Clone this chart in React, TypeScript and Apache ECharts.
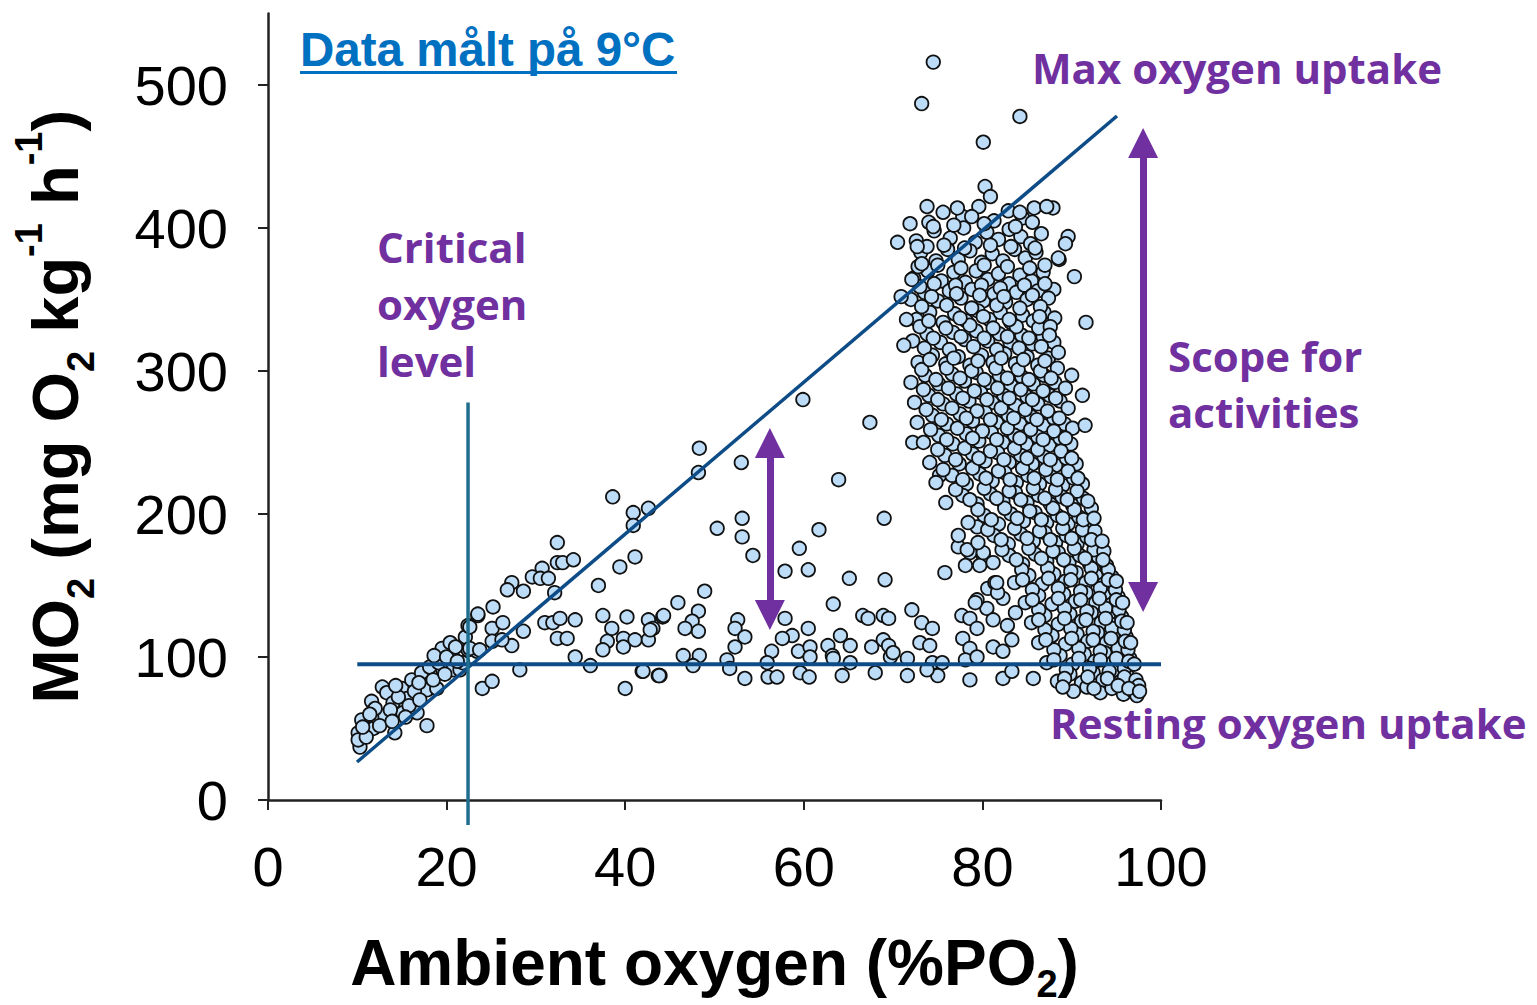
import React, { useEffect, useRef } from "react";
import * as echarts from "echarts";

type P = [number, number];

const xTicks = [0, 20, 40, 60, 80, 100];
const yTicks = [0, 100, 200, 300, 400, 500];

const lowCluster: P[] = [
  [10.3, 37], [10.1, 47], [10.5, 56], [10.1, 42], [11.8, 50], [12.2, 58], [11.6, 69], [12.8, 79], [13.3, 75],
  [13.1, 59], [14.0, 68], [14.2, 47], [15.0, 78], [15.1, 61], [15.6, 71], [16.1, 84], [16.7, 61], [17.2, 89],
  [17.8, 77], [17.8, 52], [18.1, 93], [18.9, 78], [19.5, 106], [20.4, 110], [20.6, 101], [19.6, 91], [20.7, 91],
  [22.1, 114], [22.4, 122], [23.5, 129], [22.4, 105], [23.4, 104], [24.0, 78], [25.1, 83], [25.1, 120], [25.2, 135],
  [21.5, 91], [21.8, 96], [11.0, 44], [12.5, 52], [13.7, 63], [14.6, 72], [15.8, 66], [16.4, 76], [17.0, 70],
  [18.5, 84], [19.1, 96], [12.0, 64], [13.9, 55], [10.6, 51], [11.4, 60], [16.9, 82], [14.3, 80], [18.6, 101],
  [20.0, 100], [21.2, 97], [21.0, 107], [19.8, 88], [15.4, 58], [22.6, 106],
];

const climbBand: P[] = [
  [38.6, 212], [40.9, 201], [42.6, 204], [40.9, 192], [41.1, 170], [39.4, 163], [37.0, 150], [32.4, 180],
  [32.4, 166], [33.0, 166], [34.2, 168], [30.7, 162], [29.6, 156], [30.5, 155], [31.4, 155], [27.3, 152],
  [26.8, 147], [28.6, 146], [32.1, 145], [48.3, 246], [48.2, 229], [50.3, 190], [45.9, 138], [48.9, 146],
];

const restingBand: P[] = [
  [23.5, 130], [22.6, 121], [26.3, 124], [28.6, 118], [27.3, 108], [25.1, 111], [26.2, 112], [23.7, 105],
  [31.0, 124], [31.9, 124], [32.7, 127], [34.4, 126], [32.4, 113], [33.5, 113], [34.4, 100], [36.1, 94],
  [28.2, 91], [37.5, 129], [38.5, 120], [38.0, 111], [37.5, 105], [40.2, 128], [39.8, 113], [39.8, 107],
  [41.1, 112], [42.6, 126], [43.1, 120], [42.6, 112], [41.9, 90], [40.0, 78], [43.7, 87], [44.2, 128],
  [44.3, 129], [48.2, 132], [47.5, 125], [48.2, 118], [46.7, 120], [42.8, 119], [52.6, 126], [52.3, 120],
  [53.4, 114], [52.3, 107], [57.9, 127], [58.7, 115], [57.6, 113], [60.5, 120], [56.4, 104], [46.5, 101],
  [48.3, 101], [47.6, 94], [51.4, 98], [51.7, 92], [43.9, 87], [53.4, 85], [55.9, 96], [56.0, 86], [57.0, 86],
  [59.6, 89], [60.6, 86], [59.4, 104], [60.7, 107], [60.7, 100], [62.7, 108], [63.2, 101], [64.1, 115],
  [65.2, 108], [64.3, 87], [65.2, 96], [66.6, 129], [67.2, 127], [67.6, 107], [68.0, 89], [68.9, 129],
  [69.5, 127], [68.9, 112], [69.5, 108], [69.7, 100], [63.3, 99], [63.3, 137], [72.1, 133], [73.2, 124],
  [74.4, 120], [73.0, 110], [74.1, 108], [77.7, 129], [78.6, 127], [79.4, 120], [77.8, 113], [78.6, 106],
  [70.0, 103], [71.6, 99], [74.4, 96], [75.5, 96], [78.1, 98], [79.4, 100], [71.6, 87], [75.0, 87], [73.8, 91],
  [78.6, 84], [82.3, 85], [83.3, 90], [85.7, 85], [80.5, 134], [81.2, 126], [83.7, 131], [82.8, 122],
  [81.2, 107], [82.3, 104], [83.3, 112], [79.4, 140], [42.0, 90], [43.8, 87],
];

const scopePoints: P[] = [
  [59.9, 280], [67.4, 264], [53.0, 236], [63.9, 224], [53.1, 197], [53.1, 184], [54.3, 171], [61.7, 189],
  [59.5, 176], [69.0, 197], [57.9, 160], [60.5, 161], [65.1, 155], [69.1, 154], [75.8, 159], [77.3, 177],
  [78.6, 173], [80.1, 171], [78.1, 164], [79.7, 164], [80.6, 148], [81.4, 152], [82.3, 141], [81.7, 145],
  [72.2, 250], [75.2, 227], [77.3, 185], [78.3, 175], [79.4, 191], [80.1, 173], [79.2, 138], [81.6, 152],
];

const upperOutliers: P[] = [
  [74.5, 516], [73.2, 487], [84.2, 478], [80.1, 460], [80.3, 429], [80.9, 422], [70.5, 390], [73.8, 415],
  [71.9, 403], [87.9, 414], [87.2, 415], [89.6, 394], [89.3, 389], [88.5, 379], [90.3, 366], [91.6, 334],
  [90.0, 297], [91.5, 262], [91.2, 283], [70.9, 352], [71.5, 336], [71.2, 318], [74.5, 401], [77.2, 414],
  [78.8, 408], [72.7, 387], [73.2, 375], [72.1, 364], [85.6, 404], [84.2, 411],
];

const denseCluster: P[] = [
  [74.0, 404], [75.6, 411], [77.8, 408], [79.6, 415], [81.3, 405], [82.9, 412], [84.5, 407], [85.8, 414],
  [72.6, 391], [74.6, 398], [76.4, 393], [77.9, 400], [79.2, 390], [80.5, 397], [81.8, 392], [83.0, 399], [84.3, 394], [85.4, 389], [86.6, 396],
  [73.1, 383], [74.8, 377], [76.1, 385], [77.3, 378], [78.6, 384], [79.9, 376], [81.1, 382], [82.3, 377], [83.6, 385], [84.8, 379], [86.0, 383], [88.6, 378],
  [72.3, 365], [73.9, 370], [75.4, 363], [76.8, 369], [78.1, 362], [79.3, 370], [80.6, 364], [81.8, 368], [83.0, 361], [84.2, 367], [85.5, 363], [86.8, 369], [88.0, 357],
  [72.0, 350], [73.5, 355], [75.0, 349], [76.3, 356], [77.6, 351], [78.8, 357], [80.1, 349], [81.3, 354], [82.6, 348], [83.8, 355], [85.0, 350], [86.2, 356], [87.4, 351],
  [72.6, 336], [74.1, 341], [75.6, 334], [76.9, 340], [78.2, 335], [79.5, 342], [80.8, 336], [82.0, 341], [83.2, 334], [84.5, 339], [85.7, 335], [86.9, 341], [88.1, 337],
  [72.2, 321], [73.8, 326], [75.3, 320], [76.7, 327], [78.0, 322], [79.3, 328], [80.6, 321], [81.9, 326], [83.1, 320], [84.4, 325], [85.6, 319], [86.8, 324], [88.0, 320],
  [72.8, 306], [74.4, 311], [75.9, 305], [77.3, 310], [78.6, 304], [79.9, 311], [81.2, 306], [82.5, 312], [83.7, 305], [85.0, 310], [86.2, 304], [87.4, 309], [88.5, 313],
  [72.0, 292], [73.6, 297], [75.1, 291], [76.6, 298], [78.0, 293], [79.3, 299], [80.6, 292], [81.9, 297], [83.2, 290], [84.4, 296], [85.7, 291], [86.9, 297], [88.1, 292], [89.3, 288],
  [72.4, 278], [74.0, 283], [75.6, 277], [77.1, 284], [78.5, 279], [79.8, 285], [81.1, 278], [82.4, 283], [83.7, 276], [85.0, 282], [86.2, 277], [87.5, 283], [88.7, 279],
  [72.7, 264], [74.4, 269], [76.0, 263], [77.5, 270], [78.9, 265], [80.3, 271], [81.6, 264], [82.9, 269], [84.2, 263], [85.5, 268], [86.8, 262], [88.0, 267], [89.2, 263],
  [73.4, 250], [75.1, 255], [76.7, 249], [78.2, 256], [79.6, 251], [81.0, 257], [82.3, 250], [83.6, 255], [84.9, 249], [86.2, 254], [87.5, 248], [88.7, 253], [89.9, 249],
  [74.1, 236], [75.8, 241], [77.4, 235], [78.9, 242], [80.3, 237], [81.7, 243], [83.0, 236], [84.3, 241], [85.6, 235], [86.9, 240], [88.2, 234], [89.4, 239], [90.5, 235],
  [74.8, 222], [76.6, 227], [78.2, 221], [79.7, 228], [81.1, 223], [82.5, 229], [83.8, 222], [85.1, 227], [86.4, 221], [87.7, 226], [89.0, 220], [90.2, 225], [91.2, 221],
  [75.9, 208], [77.8, 213], [79.4, 207], [80.9, 214], [82.3, 209], [83.7, 215], [85.0, 208], [86.3, 213], [87.6, 207], [88.9, 212], [90.1, 206], [91.3, 211],
  [78.4, 194], [80.2, 199], [81.8, 193], [83.2, 200], [84.6, 195], [85.9, 201], [87.2, 194], [88.4, 199], [89.6, 193], [90.8, 198], [91.9, 192],
  [79.5, 180], [81.3, 185], [82.9, 179], [84.3, 186], [85.7, 181], [87.0, 187], [88.2, 180], [89.4, 185], [90.6, 179], [91.7, 184], [92.8, 178],
  [81.2, 166], [83.0, 171], [84.5, 165], [85.9, 172], [87.2, 167], [88.5, 173], [89.7, 166], [90.9, 171], [92.0, 165], [93.0, 170], [93.9, 164],
  [83.6, 152], [85.2, 157], [86.7, 151], [88.0, 158], [89.3, 153], [90.5, 159], [91.6, 152], [92.7, 157], [93.6, 151], [94.5, 156],
  [84.8, 138], [86.3, 143], [87.8, 137], [89.1, 144], [90.4, 139], [91.6, 145], [92.7, 138], [93.6, 143], [94.5, 137], [95.2, 142],
  [85.5, 124], [87.0, 129], [88.5, 123], [89.8, 130], [91.1, 125], [92.2, 131], [93.3, 124], [94.2, 129], [95.0, 123], [95.6, 128],
  [86.3, 110], [87.8, 115], [89.3, 109], [90.6, 116], [91.8, 111], [92.9, 117], [93.9, 110], [94.8, 115], [95.5, 109], [96.1, 114],
  [87.2, 96], [88.7, 101], [90.1, 95], [91.4, 102], [92.6, 97], [93.7, 103], [94.6, 96], [95.4, 101], [96.0, 95], [96.5, 99],
  [88.4, 83], [89.8, 88], [91.1, 82], [92.4, 89], [93.5, 84], [94.6, 90], [95.5, 83], [96.2, 87], [96.8, 81],
  [90.2, 76], [91.7, 79], [93.2, 75], [94.5, 78], [95.8, 74], [96.9, 76], [97.3, 73],
  [73.0, 359], [74.6, 361], [77.0, 360], [79.9, 360], [82.0, 358], [84.7, 360], [87.0, 361],
  [73.2, 345], [76.0, 346], [78.8, 344], [81.6, 346], [84.2, 344], [86.5, 345],
  [73.0, 331], [75.9, 330], [78.6, 332], [81.2, 330], [83.8, 331], [86.3, 330], [87.6, 331],
  [73.5, 316], [76.3, 315], [79.0, 317], [81.6, 315], [84.1, 316], [86.6, 317],
  [73.2, 301], [76.0, 302], [78.8, 300], [81.5, 302], [84.0, 301], [86.5, 300], [88.4, 302],
  [73.4, 287], [76.2, 288], [79.1, 286], [81.7, 288], [84.3, 287], [86.8, 286],
  [73.7, 273], [76.6, 274], [79.4, 272], [82.1, 274], [84.8, 273], [87.3, 272], [89.6, 274],
  [74.2, 259], [77.2, 260], [80.0, 258], [82.8, 260], [85.4, 259], [88.0, 258], [90.1, 260],
  [75.0, 245], [78.0, 246], [80.9, 244], [83.6, 246], [86.2, 245], [88.8, 244],
  [75.6, 231], [78.9, 232], [81.8, 230], [84.5, 232], [87.1, 231], [89.6, 230],
  [77.0, 217], [80.2, 218], [83.0, 216], [85.7, 218], [88.2, 217], [90.6, 216],
  [79.5, 203], [82.5, 204], [85.3, 202], [87.9, 204], [90.3, 203], [92.2, 204],
  [80.6, 189], [83.6, 190], [86.4, 188], [89.0, 190], [91.2, 189], [92.6, 188],
  [82.2, 175], [85.2, 176], [87.9, 174], [90.3, 176], [92.5, 175], [93.6, 174],
  [84.4, 161], [87.3, 162], [89.9, 160], [92.2, 162], [94.1, 161],
  [85.6, 147], [88.5, 148], [91.0, 146], [93.2, 148], [94.9, 147],
  [86.3, 133], [89.2, 134], [91.7, 132], [93.8, 134], [95.3, 133],
  [87.0, 119], [89.9, 120], [92.4, 118], [94.5, 120], [95.9, 119],
  [88.0, 105], [90.8, 106], [93.2, 104], [95.2, 106], [96.3, 105],
  [89.4, 91], [92.0, 92], [94.2, 90], [95.9, 92],
];

const denseFill: P[] = [
  [76.8, 402], [80.2, 403], [83.7, 401],
  [73.8, 387], [75.7, 388], [78.0, 386], [80.9, 388], [83.2, 387], [85.9, 386],
  [72.8, 373], [75.0, 374], [77.6, 372], [80.2, 374], [82.8, 373], [85.3, 372], [87.0, 374],
  [74.3, 352], [77.1, 354], [79.7, 353], [82.4, 352], [85.6, 353],
  [74.0, 335], [77.5, 337], [80.1, 338], [83.0, 336], [86.4, 338],
  [74.5, 323], [77.6, 324], [80.2, 323], [82.8, 324], [85.2, 323], [87.5, 325],
  [74.1, 308], [76.8, 309], [79.5, 307], [82.1, 309], [84.6, 308], [87.0, 307],
  [74.8, 294], [77.5, 295], [80.2, 294], [82.8, 295], [85.2, 294], [87.7, 295],
  [75.0, 280], [77.8, 281], [80.5, 280], [83.0, 281], [85.6, 280], [88.2, 281],
  [75.4, 266], [78.2, 267], [80.9, 266], [83.5, 267], [86.1, 266], [88.6, 267],
  [76.0, 252], [78.9, 253], [81.6, 252], [84.2, 253], [86.8, 252], [89.3, 253],
  [77.0, 238], [79.6, 239], [82.4, 238], [85.0, 239], [87.6, 238], [90.0, 239],
  [77.8, 224], [80.4, 225], [83.1, 224], [85.8, 225], [88.4, 224], [90.7, 225],
  [78.6, 210], [81.6, 211], [84.3, 210], [87.0, 211], [89.5, 210], [91.8, 209],
  [81.0, 196], [83.9, 197], [86.6, 196], [89.0, 197], [91.3, 196], [92.5, 197],
  [82.1, 182], [85.0, 183], [87.6, 182], [90.0, 183], [92.2, 182], [93.4, 181],
  [83.8, 168], [86.6, 169], [89.1, 168], [91.5, 169], [93.5, 168],
  [84.5, 154], [87.4, 155], [89.9, 154], [92.2, 155], [94.1, 154], [95.0, 153],
  [85.6, 140], [88.5, 141], [91.0, 140], [93.1, 141], [95.0, 140], [95.7, 138],
  [86.3, 126], [89.2, 127], [91.6, 126], [93.8, 127], [95.6, 125], [96.2, 124],
  [87.1, 112], [90.0, 113], [92.4, 112], [94.4, 113], [96.0, 111], [96.6, 110],
  [88.0, 98], [90.8, 99], [93.2, 98], [95.0, 99], [96.4, 97], [97.0, 95],
  [89.2, 85], [91.8, 86], [94.0, 85], [95.9, 86], [97.2, 84], [97.5, 80],
  [89.0, 79], [92.5, 78], [95.2, 80], [96.4, 78], [97.6, 76],
];

const maxLine: P[] = [[9.97, 26.6], [95.07, 478.3]];
const restingLine: P[] = [[10, 95], [100, 95]];
const criticalLine: P[] = [[22.4, -17.5], [22.4, 278]];
const smallArrow: P[] = [[56.2, 249.7], [56.2, 129.4]];
const bigArrow: P[] = [[98.0, 459.4], [98.0, 142]];

const PURPLE = "#7030A0";
const NAVY = "#0D4C86";
const ARIAL = "'Liberation Sans', Arial, sans-serif";
const LABEL_FONT = "'Open Sans', Lato, sans-serif";

export default function App() {
  const ref = useRef<HTMLDivElement>(null);
  useEffect(() => {
    if (!ref.current) return;
    const chart = echarts.init(ref.current, undefined, { renderer: "svg" });
    const points = [
      ...lowCluster, ...climbBand, ...restingBand, ...scopePoints, ...denseCluster, ...denseFill, ...upperOutliers,
    ];
    const purpleText = (text: string, x: number, y: number) => ({
      type: "text",
      x,
      y,
      z: 100,
      style: {
        text,
        fill: PURPLE,
        fontFamily: LABEL_FONT,
        fontWeight: "bold",
        fontSize: 42,
        align: "left",
        verticalAlign: "middle",
      },
    });
    chart.setOption({
      animation: false,
      backgroundColor: "#ffffff",
      grid: { left: 268, right: 376, top: 13.5, bottom: 205, containLabel: false, outerBoundsMode: "none" },
      xAxis: {
        type: "value",
        min: 0,
        max: 100,
        interval: 20,
        splitLine: { show: false },
        axisLine: { show: true, onZero: false, lineStyle: { color: "#222", width: 2.5 } },
        axisTick: { show: true, length: 10, lineStyle: { color: "#222", width: 2 }, customValues: xTicks },
        axisLabel: {
          customValues: xTicks,
          margin: 38,
          fontSize: 56,
          fontFamily: ARIAL,
          color: "#000",
        },
        name: "{t|Ambient oxygen (%PO}{sub|2}{t|)}",
        nameLocation: "middle",
        nameGap: 123,
        nameTextStyle: {
          rich: {
            t: { fontSize: 64, fontWeight: "bold", fontFamily: ARIAL, color: "#000", lineHeight: 80 },
            sub: { fontSize: 38, fontWeight: "bold", fontFamily: ARIAL, color: "#000", verticalAlign: "bottom" },
          },
        },
      },
      yAxis: {
        type: "value",
        min: 0,
        max: 550,
        interval: 100,
        splitLine: { show: false },
        axisLine: { show: true, onZero: false, lineStyle: { color: "#222", width: 2.5 } },
        axisTick: { show: true, length: 10, lineStyle: { color: "#222", width: 2 }, customValues: yTicks },
        axisLabel: {
          customValues: yTicks,
          margin: 40,
          fontSize: 56,
          fontFamily: ARIAL,
          color: "#000",
          formatter: (v: number) => (yTicks.includes(v) ? String(v) : ""),
        },
        name: "{t|MO}{sub|2}{t| (mg O}{sub|2}{t| kg}{sup|-1}{t| h}{sup|-1}{t|)}",
        nameLocation: "middle",
        nameRotate: 90,
        nameGap: 168,
        nameTextStyle: {
          rich: {
            t: { fontSize: 65, fontWeight: "bold", fontFamily: ARIAL, color: "#000", lineHeight: 90 },
            sub: { fontSize: 38, fontWeight: "bold", fontFamily: ARIAL, color: "#000", verticalAlign: "bottom" },
            sup: { fontSize: 38, fontWeight: "bold", fontFamily: ARIAL, color: "#000", verticalAlign: "top" },
          },
        },
      },
      series: [
        {
          type: "scatter",
          data: points,
          symbol: "circle",
          symbolSize: 13.5,
          itemStyle: { color: "#BDDCF7", borderColor: "#111", borderWidth: 1.8, opacity: 1 },
          silent: true,
          z: 2,
        },
        {
          type: "line",
          data: maxLine,
          symbol: "none",
          lineStyle: { color: NAVY, width: 3.5 },
          silent: true,
          z: 5,
        },
        {
          type: "line",
          data: restingLine,
          symbol: "none",
          lineStyle: { color: NAVY, width: 4 },
          silent: true,
          z: 5,
        },
        {
          type: "line",
          data: criticalLine,
          symbol: "none",
          clip: false,
          lineStyle: { color: "#1F6E8E", width: 3.5 },
          silent: true,
          z: 5,
        },
        {
          type: "line",
          data: [],
          symbol: "none",
          silent: true,
          z: 6,
          markLine: {
            silent: true,
            symbol: ["triangle", "triangle"],
            symbolSize: [30, 30],
            label: { show: false },
            lineStyle: { color: PURPLE, width: 7, type: "solid" },
            itemStyle: { color: PURPLE },
            emphasis: { disabled: true },
            data: [
              [{ coord: smallArrow[0] }, { coord: smallArrow[1] }],
              [{ coord: bigArrow[0] }, { coord: bigArrow[1] }],
            ],
          },
        },
      ],
      graphic: [
        {
          type: "text",
          x: 300,
          y: 49,
          z: 100,
          style: {
            text: "Data målt på 9°C",
            fill: "#0070C0",
            fontFamily: ARIAL,
            fontWeight: "bold",
            fontSize: 47.5,
            align: "left",
            verticalAlign: "middle",
          },
        },
        { type: "rect", z: 100, shape: { x: 300, y: 71, width: 377, height: 3 }, style: { fill: "#0070C0" } },
        purpleText("Max oxygen uptake", 1032, 67),
        purpleText("Critical", 377, 246),
        purpleText("oxygen", 377, 303),
        purpleText("level", 377, 360),
        purpleText("Scope for", 1168, 355),
        purpleText("activities", 1168, 411),
        purpleText("Resting oxygen uptake", 1050, 722),
      ],
    });
    return () => chart.dispose();
  }, []);
  return <div ref={ref} style={{ position: "fixed", left: 0, top: 0, width: 1537, height: 1005, background: "#fff" }} />;
}
